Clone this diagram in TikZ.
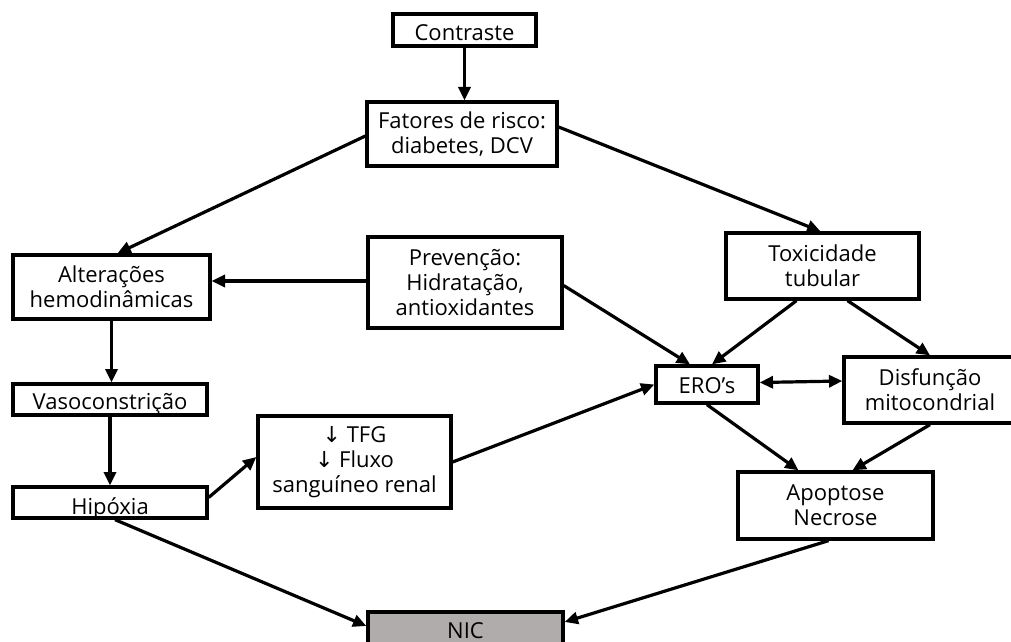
\documentclass[tikz,border=0pt]{standalone}
\usepackage{fontspec}
\setmainfont{Open Sans}
\newfontfamily\symfont{DejaVu Sans}
\usetikzlibrary{arrows.meta,calc}
\definecolor{nicgray}{RGB}{176,172,172}
\begin{document}
\begin{tikzpicture}[x=0.75pt,y=-0.75pt,
  box/.style={draw=black,line width=2.5pt,align=center,inner sep=0pt,
    font=\fontsize{16.5}{18.75}\selectfont},
  arr/.style={line width=2.4pt,-{Triangle[length=10pt,width=9pt]}},
  darr/.style={line width=2.4pt,{Triangle[length=10pt,width=9pt]}-{Triangle[length=10pt,width=9pt]}}]
\useasboundingbox (0,0) rectangle (1011,642);
\fill[white] (0,0) rectangle (1011,642);

\node[box,minimum width=107.25pt,minimum height=24pt,text height=16.5pt,text depth=0pt] (contr) at (464.5,30) {Contraste};
\node[box,minimum width=142.5pt,minimum height=48pt] (fat) at (462,134) {Fatores de risco:\\diabetes, DCV};
\node[box,minimum width=147.75pt,minimum height=48pt] (alt) at (111.5,287) {Alterações\\hemodinâmicas};
\node[box,minimum width=145.5pt,minimum height=23.25pt,text height=14.25pt,text depth=0pt] (vaso) at (110,399.5) {Vasoconstrição};
\node[box,minimum width=145.5pt,minimum height=23.25pt,text height=17.25pt,text depth=0pt] (hip) at (110,502.5) {Hipóxia};
\node[box,minimum width=144.75pt,minimum height=69pt] (tfg) at (354.5,462) {{\symfont ↓} TFG\\{\symfont ↓} Fluxo\\sanguíneo renal};
\node[box,minimum width=145.5pt,minimum height=68.25pt] (prev) at (465,282.5) {Prevenção:\\Hidratação,\\antioxidantes};
\node[box,minimum width=144.75pt,minimum height=49.5pt] (tox) at (822.5,266) {Toxicidade\\tubular};
\node[box,minimum width=76.5pt,minimum height=27.75pt,text height=12.75pt,text depth=0pt] (ero) at (707,384.5) {ERO’s};
\node[box,minimum width=129pt,minimum height=49.5pt] (dis) at (930,390) {Disfunção\\mitocondrial};
\node[box,minimum width=146.25pt,minimum height=50.25pt] (apo) at (835.5,505.5) {Apoptose\\Necrose};
\node[box,fill=nicgray,minimum width=146.25pt,minimum height=30pt,text height=9pt,text depth=0pt] (nic) at (465.5,632) {NIC};

\draw[arr] (contr.south) -- (contr.south |- fat.north);
\draw[arr] ($(fat.west)+(0,2)$) -- ($(alt.north)+(6,0)$);
\draw[arr] ($(fat.east)+(0,-7)$) -- ($(tox.north)+(-2,0)$);
\draw[arr] ($(prev.west)+(0,-1.5)$) -- ($(alt.east)+(0,-6)$);
\draw[arr] ($(prev.east)+(0,3)$) -- ($(ero.north)+(-17,0)$);
\draw[arr] ($(tox.south)+(-26,0)$) -- ($(ero.north)+(5,0)$);
\draw[arr] ($(tox.south)+(25,0)$) -- (dis.north);
\draw[darr] ($(ero.east)+(0,-2)$) -- ($(dis.west)+(0,-9)$);
\draw[arr] (ero.south) -- ($(apo.north)+(-37,0)$);
\draw[arr] (dis.south) -- ($(apo.north)+(17,0)$);
\draw[arr] (alt.south) -- (alt.south |- vaso.north);
\draw[arr] (vaso.south) -- (vaso.south |- hip.north);
\draw[arr] ($(hip.east)+(0,-5)$) -- ($(tfg.west)+(0,-5)$);
\draw[arr] (tfg.east) -- (ero.west);
\draw[arr] ($(hip.south)+(5,0)$) -- ($(nic.west)+(0,-6)$);
\draw[arr] ($(apo.south)+(-7,0)$) -- ($(nic.east)+(0,-10)$);
\end{tikzpicture}
\end{document}
